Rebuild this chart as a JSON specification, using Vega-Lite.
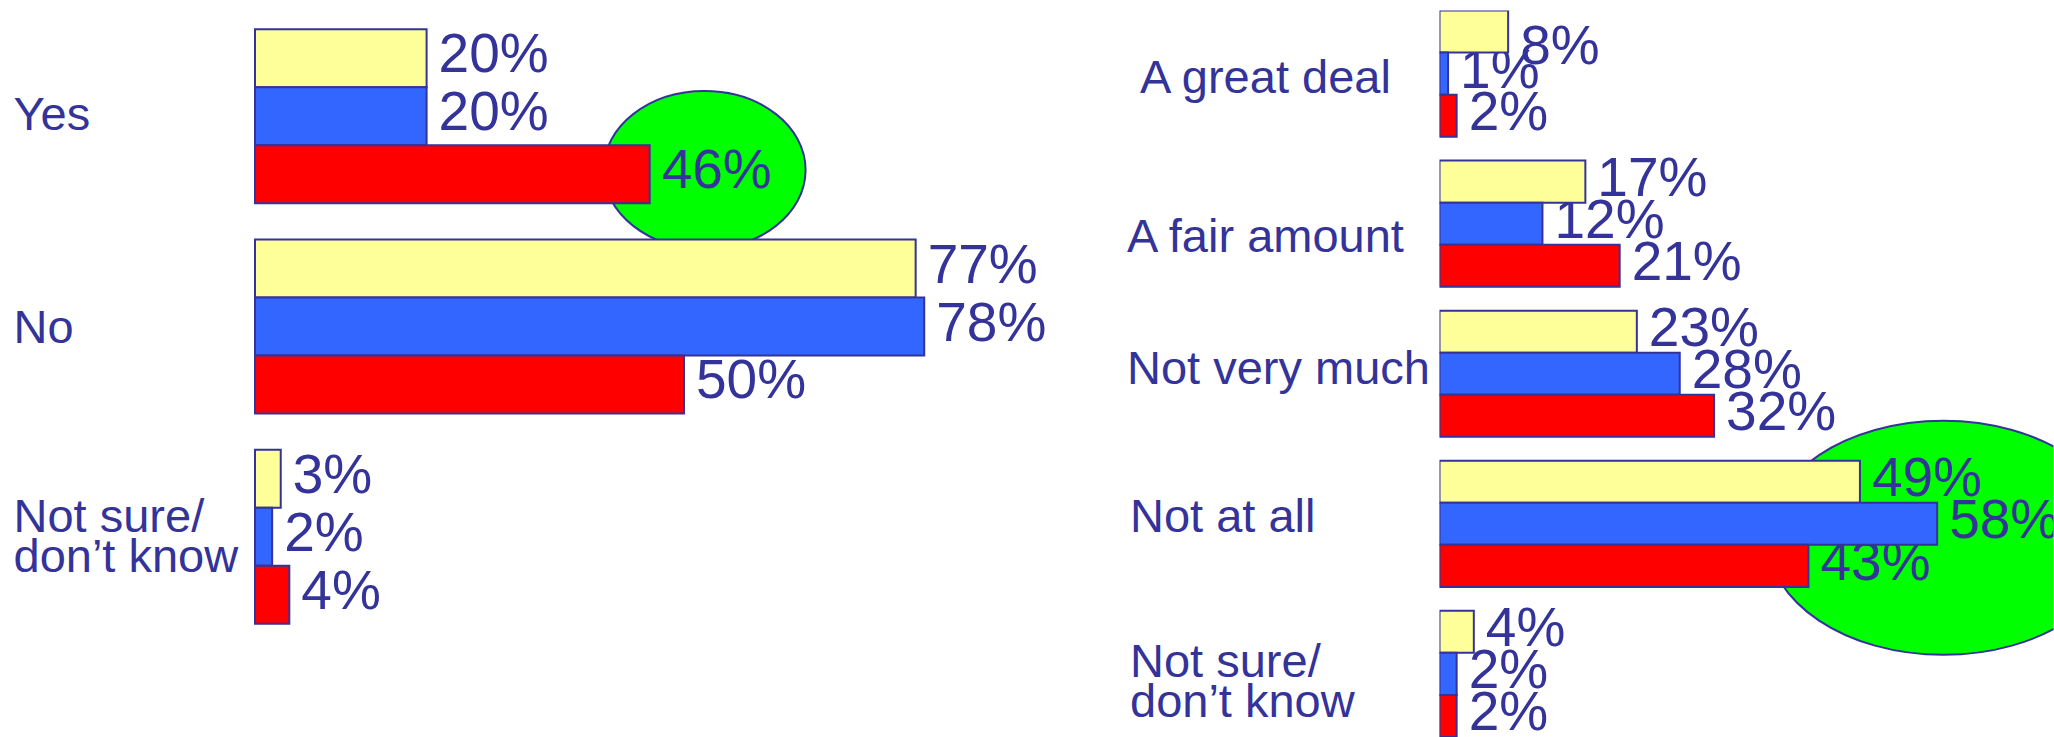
{
  "$schema": "https://vega.github.io/schema/vega-lite/v6.json",
  "background": "white",
  "padding": {"left": 13, "top": 10.5, "right": 0, "bottom": 0},
  "bounds": "flush",
  "spacing": 326.5,
  "resolve": {"scale": {"y": "independent", "yOffset": "independent", "x": "independent"}},
  "config": {
    "view": {"stroke": null},
    "font": "Liberation Sans",
    "axisY": {
      "title": null, "domain": false, "ticks": false, "grid": false,
      "labelFont": "Liberation Sans", "labelFontSize": 47, "labelColor": "#333399",
      "labelAlign": "left", "labelBaseline": "middle", "labelLimit": 0, "labelOverlap": false,
      "labelLineHeight": 40
    }
  },
  "datasets": {
    "q1": [
      {"answer": "Yes", "group": "Group 1", "share": 0.20},
      {"answer": "Yes", "group": "Group 2", "share": 0.20},
      {"answer": "Yes", "group": "Group 3", "share": 0.46},
      {"answer": "No", "group": "Group 1", "share": 0.77},
      {"answer": "No", "group": "Group 2", "share": 0.78},
      {"answer": "No", "group": "Group 3", "share": 0.50},
      {"answer": "Not sure/ don’t know", "group": "Group 1", "share": 0.03},
      {"answer": "Not sure/ don’t know", "group": "Group 2", "share": 0.02},
      {"answer": "Not sure/ don’t know", "group": "Group 3", "share": 0.04}
    ],
    "q1mark": [{"answer": "Yes", "group": "Group 3", "share": 0.524}],
    "q2": [
      {"answer": "A great deal", "group": "Group 1", "share": 0.08},
      {"answer": "A great deal", "group": "Group 2", "share": 0.01},
      {"answer": "A great deal", "group": "Group 3", "share": 0.02},
      {"answer": "A fair amount", "group": "Group 1", "share": 0.17},
      {"answer": "A fair amount", "group": "Group 2", "share": 0.12},
      {"answer": "A fair amount", "group": "Group 3", "share": 0.21},
      {"answer": "Not very much", "group": "Group 1", "share": 0.23},
      {"answer": "Not very much", "group": "Group 2", "share": 0.28},
      {"answer": "Not very much", "group": "Group 3", "share": 0.32},
      {"answer": "Not at all", "group": "Group 1", "share": 0.49},
      {"answer": "Not at all", "group": "Group 2", "share": 0.58},
      {"answer": "Not at all", "group": "Group 3", "share": 0.43},
      {"answer": "Not sure/ don’t know", "group": "Group 1", "share": 0.04},
      {"answer": "Not sure/ don’t know", "group": "Group 2", "share": 0.02},
      {"answer": "Not sure/ don’t know", "group": "Group 3", "share": 0.02}
    ],
    "q2mark": [{"answer": "Not at all", "group": "Group 2", "share": 0.5874}]
  },
  "hconcat": [
    {
      "width": 858, "height": 632,
      "encoding": {
        "y": {"field": "answer", "type": "nominal", "sort": ["Yes", "No", "Not sure/ don’t know"],
              "scale": {"paddingInner": 0.1726, "paddingOuter": 0.0894},
              "axis": {"labelPadding": 242,
                       "labelExpr": "datum.label == 'Not sure/ don’t know' ? ['Not sure/', 'don’t know'] : datum.label",
                       "labelOffset": {"condition": [
                         {"test": "datum.value == 'Not sure/ don’t know'", "value": -19},
                         {"test": "datum.value == 'No'", "value": 2}], "value": 0}}},
        "yOffset": {"field": "group", "type": "nominal", "sort": ["Group 1", "Group 2", "Group 3"], "scale": {"paddingInner": 0, "paddingOuter": 0}},
        "x": {"field": "share", "type": "quantitative", "scale": {"domain": [0, 1]}, "axis": null}
      },
      "layer": [
        {"data": {"name": "q1mark"},
         "mark": {"type": "point", "shape": "M1,-0.042 C1,0.3899 0.5523,0.74 0,0.74 C-0.5523,0.74 -1,0.3899 -1,-0.042 C-1,-0.4739 -0.5523,-0.824 0,-0.824 C0.5523,-0.824 1,-0.4739 1,-0.042 Z",
                  "size": 40804, "filled": true, "fill": "#00FF00", "stroke": "#333399", "strokeWidth": 2, "opacity": 1}},
        {"data": {"name": "q1"},
         "mark": {"type": "text", "align": "left", "baseline": "middle", "dx": 12, "dy": -3, "fontSize": 55, "color": "#333399", "font": "Liberation Sans"},
         "encoding": {"text": {"field": "share", "type": "quantitative", "format": ".0%"}}},
        {"data": {"name": "q1"},
         "mark": {"type": "bar", "stroke": "#333399", "strokeWidth": 2, "opacity": 1},
         "encoding": {"color": {"field": "group", "type": "nominal", "scale": {"domain": ["Group 1", "Group 2", "Group 3"], "range": ["#FFFF99", "#3366FF", "#FF0000"]}, "legend": null}}}
      ]
    },
    {
      "width": 614, "height": 726.5,
      "encoding": {
        "y": {"field": "answer", "type": "nominal", "sort": ["A great deal", "A fair amount", "Not very much", "Not at all", "Not sure/ don’t know"],
              "scale": {"paddingInner": 0.159, "paddingOuter": 0},
              "axis": {"labelPadding": {"condition": [
                         {"test": "datum.value == 'A great deal'", "value": 300},
                         {"test": "datum.value == 'Not at all' || datum.value == 'Not sure/ don’t know'", "value": 310}], "value": 313},
                       "labelExpr": "datum.label == 'Not sure/ don’t know' ? ['Not sure/', 'don’t know'] : datum.label",
                       "labelOffset": {"condition": [
                         {"test": "datum.value == 'A great deal'", "value": 5},
                         {"test": "datum.value == 'A fair amount'", "value": 14},
                         {"test": "datum.value == 'Not very much'", "value": -4},
                         {"test": "datum.value == 'Not at all'", "value": -6}], "value": -11}}},
        "yOffset": {"field": "group", "type": "nominal", "sort": ["Group 1", "Group 2", "Group 3"], "scale": {"paddingInner": 0, "paddingOuter": 0}},
        "x": {"field": "share", "type": "quantitative", "scale": {"domain": [0, 0.7156]}, "axis": null}
      },
      "layer": [
        {"data": {"name": "q2mark"},
         "mark": {"type": "point", "clip": true, "shape": "M1,0.0795 C1,0.4468 0.5523,0.7445 0,0.7445 C-0.5523,0.7445 -1,0.4468 -1,0.0795 C-1,-0.2878 -0.5523,-0.5855 0,-0.5855 C0.5523,-0.5855 1,-0.2878 1,0.0795 Z",
                  "size": 123904, "filled": true, "fill": "#00FF00", "stroke": "#333399", "strokeWidth": 2, "opacity": 1}},
        {"data": {"name": "q2"},
         "mark": {"type": "text", "clip": true, "align": "left", "baseline": "middle", "dx": 12,
                  "dy": {"expr": "datum.answer == 'A great deal' && datum.group == 'Group 1' ? 15 : -3"},
                  "fontSize": 55, "color": "#333399", "font": "Liberation Sans"},
         "encoding": {"text": {"field": "share", "type": "quantitative", "format": ".0%"}}},
        {"data": {"name": "q2"},
         "mark": {"type": "bar", "clip": true, "stroke": "#333399", "strokeWidth": 2, "opacity": 1},
         "encoding": {"color": {"field": "group", "type": "nominal", "scale": {"domain": ["Group 1", "Group 2", "Group 3"], "range": ["#FFFF99", "#3366FF", "#FF0000"]}, "legend": null}}}
      ]
    }
  ]
}
